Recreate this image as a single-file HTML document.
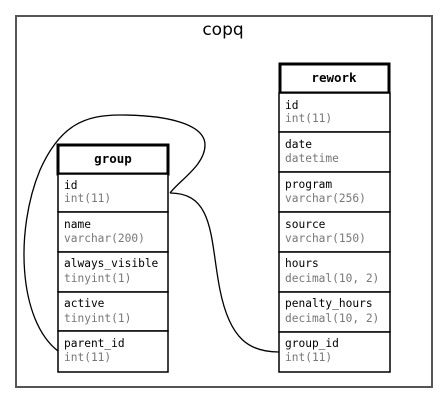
<!DOCTYPE html>
<html><head><style>
body{margin:0;background:#fff;width:448px;height:404px;overflow:hidden}
text{font-family:"DejaVu Sans Mono","Liberation Mono",monospace;font-size:11.2px}
.n{fill:#000}.t{fill:#777}
</style></head><body>
<svg width="448" height="404" xmlns="http://www.w3.org/2000/svg">
<rect x="16" y="16" width="416" height="371" fill="#fff" stroke="#555" stroke-width="2"/>
<text x="223" y="35" text-anchor="middle" style="font-family:'DejaVu Sans','Liberation Sans',sans-serif;font-size:17px">copq</text>
<g fill="none" stroke="#000" stroke-width="1.3">
<path d="M58,351 C18,320 15,230 40,170 C60,125 85,115 120,115 C170,115 205,125 205,145 C205,165 180,180 170,193"/>
<path d="M170,193 C215,193 210,240 220,290 C230,340 250,352 279,352"/>
</g>
<g stroke="#000" fill="#fff">
<rect x="58" y="145" width="110" height="29" stroke-width="3"/>
<rect x="58" y="174" width="110" height="38" stroke-width="1.5"/>
<rect x="58" y="212" width="110" height="40" stroke-width="1.5"/>
<rect x="58" y="252" width="110" height="40" stroke-width="1.5"/>
<rect x="58" y="292" width="110" height="39" stroke-width="1.5"/>
<rect x="58" y="331" width="110" height="41" stroke-width="1.5"/>
</g>
<text x="113" y="163" text-anchor="middle" style="font-weight:bold;font-size:12.5px">group</text>
<text class="n" x="64" y="189">id</text><text class="t" x="64" y="202">int(11)</text>
<text class="n" x="64" y="228">name</text><text class="t" x="64" y="242">varchar(200)</text>
<text class="n" x="64" y="267">always_visible</text><text class="t" x="64" y="282">tinyint(1)</text>
<text class="n" x="64" y="307">active</text><text class="t" x="64" y="322">tinyint(1)</text>
<text class="n" x="64" y="347">parent_id</text><text class="t" x="64" y="361">int(11)</text>
<g stroke="#000" fill="#fff">
<rect x="280" y="64" width="109" height="29" stroke-width="3"/>
<rect x="279" y="93" width="111" height="39" stroke-width="1.5"/>
<rect x="279" y="132" width="111" height="40" stroke-width="1.5"/>
<rect x="279" y="172" width="111" height="40" stroke-width="1.5"/>
<rect x="279" y="212" width="111" height="40" stroke-width="1.5"/>
<rect x="279" y="252" width="111" height="40" stroke-width="1.5"/>
<rect x="279" y="292" width="111" height="40" stroke-width="1.5"/>
<rect x="279" y="332" width="111" height="40" stroke-width="1.5"/>
</g>
<text x="334" y="82" text-anchor="middle" style="font-weight:bold;font-size:12.5px">rework</text>
<text class="n" x="285" y="109">id</text><text class="t" x="285" y="122">int(11)</text>
<text class="n" x="285" y="148">date</text><text class="t" x="285" y="162">datetime</text>
<text class="n" x="285" y="188">program</text><text class="t" x="285" y="202">varchar(256)</text>
<text class="n" x="285" y="228">source</text><text class="t" x="285" y="242">varchar(150)</text>
<text class="n" x="285" y="267">hours</text><text class="t" x="285" y="282">decimal(10, 2)</text>
<text class="n" x="285" y="307">penalty_hours</text><text class="t" x="285" y="322">decimal(10, 2)</text>
<text class="n" x="285" y="347">group_id</text><text class="t" x="285" y="361">int(11)</text>
</svg>
</body></html>
